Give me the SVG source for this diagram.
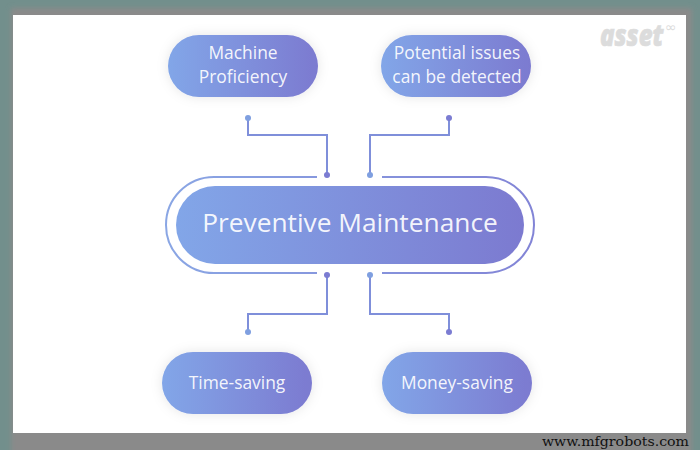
<svg xmlns="http://www.w3.org/2000/svg" width="700" height="450" viewBox="0 0 700 450">
<style>
.pill{fill:url(#g);filter:url(#s)}
.lbl{font-family:"Open Sans","Noto Sans",sans-serif;font-weight:400;fill:#fff;fill-opacity:.93;text-anchor:middle;font-size:17.4px}
.c{fill:none;stroke-width:2}
.dl{fill:#7f9fe0}.dd{fill:#7b7cd2}
</style>
<defs>
<linearGradient id="g" x1="0" y1="0" x2="1" y2="0"><stop offset="0" stop-color="#82a6e8"/><stop offset="1" stop-color="#7c7ad0"/></linearGradient>
<linearGradient id="o" gradientUnits="userSpaceOnUse" x1="166" y1="0" x2="534" y2="0"><stop offset="0" stop-color="#8aa6e4"/><stop offset="1" stop-color="#8284d6"/></linearGradient>
<filter id="s" x="-20%" y="-40%" width="140%" height="180%"><feDropShadow dx="0" dy="0" stdDeviation="6" flood-color="#000" flood-opacity="0.1"/></filter>
<filter id="b" x="-5%" y="-5%" width="110%" height="110%"><feGaussianBlur stdDeviation="2.5"/></filter>
</defs>
<rect width="700" height="450" fill="#728f8c"/>
<rect x="11" y="8" width="681" height="450" fill="#8a8a8a" filter="url(#b)"/>
<rect x="13" y="15" width="673" height="418" fill="#fff"/>
<text transform="translate(600 46) scale(.8 1)" font-family="'Open Sans','Liberation Sans',sans-serif" font-weight="800" font-style="italic" font-size="30" fill="#dcdcdc" stroke="#dcdcdc" stroke-width=".7">asset</text>
<text x="665" y="32" font-family="'DejaVu Sans',sans-serif" font-size="14" fill="#dcdcdc">∞</text>
<g id="connectors">
<path class="c" stroke="url(#o)" d="M317 177H214a48 48 0 0 0 0 96H317"/>
<path class="c" stroke="url(#o)" d="M382 177H486a48 48 0 0 1 0 96H382"/>
<path class="c" stroke="#7f8fda" d="M248 118V135H327V175"/>
<path class="c" stroke="#7f8fda" d="M449 118V135H370V175"/>
<path class="c" stroke="#7f8fda" d="M327 275V314H248V332"/>
<path class="c" stroke="#7f8fda" d="M370 275V314H449V332"/>
<circle class="dl" cx="248" cy="118" r="3"/><circle class="dd" cx="327" cy="175" r="3"/>
<circle class="dd" cx="449" cy="118" r="3"/><circle class="dl" cx="370" cy="175" r="3"/>
<circle class="dd" cx="327" cy="275" r="3"/><circle class="dl" cx="248" cy="332" r="3"/>
<circle class="dl" cx="370" cy="275" r="3"/><circle class="dd" cx="449" cy="332" r="3"/>
</g>
<g id="main"><rect x="176" y="186" width="348" height="78" rx="39" fill="url(#g)"/><text class="lbl" x="350" y="232" style="font-size:26.3px">Preventive Maintenance</text></g>
<g id="machine"><rect class="pill" x="168" y="35" width="150" height="62" rx="31"/><text class="lbl" x="243" y="59">Machine</text><text class="lbl" x="243" y="83">Proficiency</text></g>
<g id="issues"><rect class="pill" x="381" y="35" width="150" height="62" rx="31"/><text class="lbl" x="457" y="59">Potential issues</text><text class="lbl" x="457" y="83">can be detected</text></g>
<g id="time"><rect class="pill" x="162" y="352" width="150" height="62" rx="31"/><text class="lbl" x="237" y="389">Time-saving</text></g>
<g id="money"><rect class="pill" x="382" y="352" width="150" height="62" rx="31"/><text class="lbl" x="457" y="389">Money-saving</text></g>
<text x="542" y="446" font-family="'DejaVu Serif','Liberation Serif',serif" font-size="13" fill="#111" textLength="147" lengthAdjust="spacingAndGlyphs">www.mfgrobots.com</text>
</svg>
